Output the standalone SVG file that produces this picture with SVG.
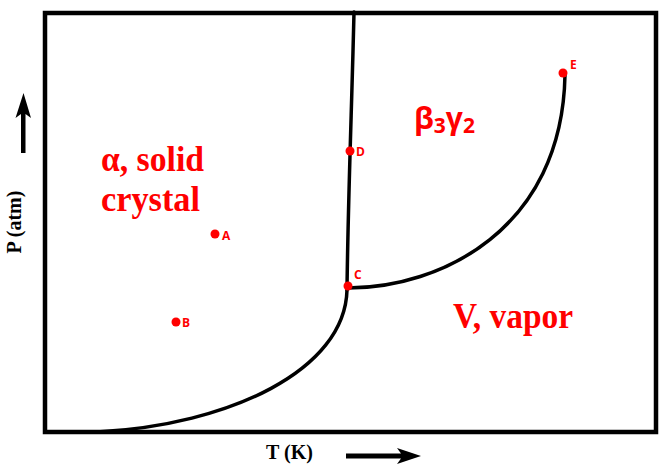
<svg xmlns="http://www.w3.org/2000/svg" width="663" height="465" viewBox="0 0 663 465">
<style>
.curve{fill:none;stroke:#000;stroke-width:3.5;stroke-linecap:round}
.big{font-family:"Liberation Serif","Times New Roman",serif;font-weight:bold;fill:#ff0000;font-size:35px}
.pt{fill:#ff0000}
.lbl{font-family:"Open Sans","DejaVu Sans",sans-serif;font-weight:bold;fill:#ff0000;font-size:12px}
.ax{font-family:"Liberation Serif","Times New Roman",serif;font-weight:bold;fill:#000;font-size:20px}
.arrow{fill:#000}
</style>
<rect x="45" y="13" width="611" height="419" fill="#fff" stroke="#000" stroke-width="4.5"/>
<g id="connectors">
<path class="curve" d="M354,12 C352,100 348,200 347,290"/>
<path class="curve" d="M347,290 C345,370 230,425 97,432"/>
<path class="curve" d="M348,288 C440,288 562,230 565,75"/>
<path class="arrow" d="M21,153 L21,114 L15.5,118 L23.5,93 L31,118 L25.5,114 L25.5,153 Z"/>
<path class="arrow" d="M346,453.5 L401,453.5 L397,448 L421,456 L397,464 L401,458.5 L346,458.5 Z"/>
</g>
<g id="region-alpha">
<text class="big" x="101" y="171" textLength="103" lengthAdjust="spacingAndGlyphs">α, solid</text>
<text class="big" x="101" y="211" textLength="99" lengthAdjust="spacingAndGlyphs">crystal</text>
</g>
<g id="region-beta">
<text x="414" y="129" style="font-family:'Open Sans','DejaVu Sans',sans-serif;font-weight:bold;fill:#ff0000;font-size:30px">β<tspan font-size="21" dy="4">3</tspan><tspan dy="-4">γ</tspan><tspan font-size="21" dy="4">2</tspan></text>
</g>
<g id="region-vapor">
<text class="big" x="453" y="328" textLength="120" lengthAdjust="spacingAndGlyphs">V, vapor</text>
</g>
<g id="point-A"><circle class="pt" cx="215" cy="234" r="4.5"/><text class="lbl" x="222" y="240">A</text></g>
<g id="point-B"><circle class="pt" cx="176" cy="322" r="4.5"/><text class="lbl" x="182" y="327">B</text></g>
<g id="point-C"><circle class="pt" cx="348" cy="286" r="4.5"/><text class="lbl" x="354" y="279">C</text></g>
<g id="point-D"><circle class="pt" cx="350" cy="151" r="4.5"/><text class="lbl" x="356" y="156">D</text></g>
<g id="point-E"><circle class="pt" cx="563" cy="73" r="4.5"/><text class="lbl" x="570" y="69">E</text></g>
<g id="axis-labels">
<text class="ax" transform="translate(21,222) rotate(-90)" text-anchor="middle">P (atm)</text>
<text class="ax" x="266" y="459">T (K)</text>
</g>
</svg>
